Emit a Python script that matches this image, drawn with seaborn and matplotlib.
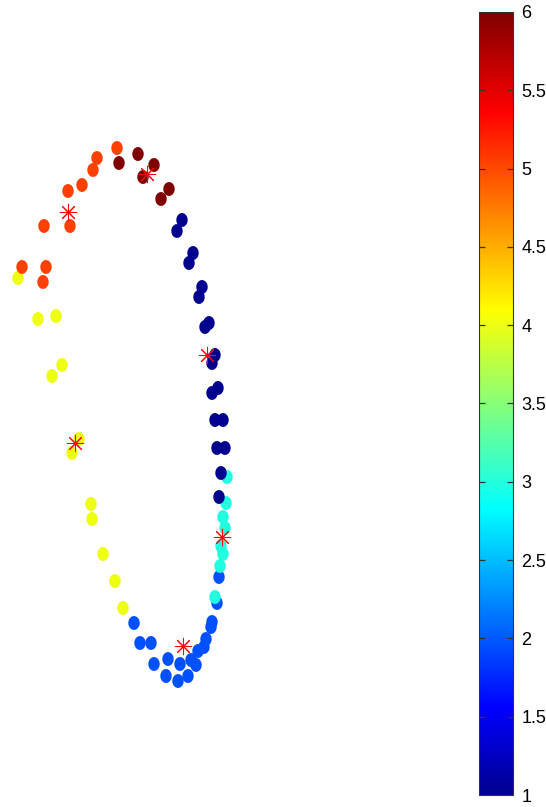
import numpy as np
import pandas as pd
import matplotlib
matplotlib.use("Agg")
import matplotlib.pyplot as plt
from matplotlib.path import Path
from matplotlib.colors import ListedColormap, LinearSegmentedColormap, Normalize
import seaborn as sns

sns.set_style("white")
plt.rcParams['font.family'] = ['Liberation Sans', 'DejaVu Sans']

# ---- data (x right, y downward) ----
# cluster 2 (blue)
c2_x = [134, 140, 151, 154, 168, 166, 180, 178, 188, 191, 196, 198, 204, 206, 211, 212, 217, 219]
c2_y = [623, 643, 643, 664, 659, 676, 664, 681, 676, 660, 665, 651, 647, 639, 627, 622, 603, 577]
# cluster 3 (cyan)
c3_x = [227, 226, 223, 225, 221, 223, 220, 215]
c3_y = [477, 503, 517, 528, 546, 554, 566, 597]
# cluster 1 (navy)
c1_x = [182, 177, 193, 189, 202, 199, 209, 205, 215, 212, 218, 212, 215, 223, 217, 225, 221, 219]
c1_y = [220, 231, 253, 263, 287, 297, 323, 327, 355, 363, 388, 393, 420, 420, 448, 448, 473, 497]
# cluster 4 (yellow)
c4_x = [18, 38, 56, 62, 52, 79, 72, 91, 92, 103, 115, 123]
c4_y = [278, 319, 316, 365, 376, 439, 453, 504, 519, 554, 581, 608]
# cluster 5 (orange)
c5_x = [117, 97, 93, 82, 68, 44, 70, 22, 46, 43]
c5_y = [148, 158, 170, 185, 191, 226, 226, 267, 267, 282]
# cluster 6 (dark red)
c6_x = [138, 119, 154, 143, 169, 161]
c6_y = [154, 163, 165, 177, 189, 199]

# cluster centroids (red asterisks)
cen_x = [207, 183, 222, 75, 68, 147]
cen_y = [355, 646, 537, 443, 212, 174]

cbar_ticks = [1, 1.5, 2, 2.5, 3, 3.5, 4, 4.5, 5, 5.5, 6]
cbar_labels = ["1", "1.5", "2", "2.5", "3", "3.5", "4", "4.5", "5", "5.5", "6"]

# ---- MATLAB-style jet(64) colormap ----
def matlab_jet(m=64):
    n = int(np.ceil(m / 4))
    u = np.concatenate([np.arange(1, n + 1) / n, np.ones(n - 1), np.arange(n, 0, -1) / n])
    g = int(np.ceil(n / 2)) - (1 if m % 4 == 1 else 0) + np.arange(1, len(u) + 1)
    r = g + n
    b = g - n
    J = np.zeros((m, 3))
    for idx_arr, col in ((r, 0), (g, 1), (b, 2)):
        for k, i in enumerate(idx_arr):
            if 1 <= i <= m:
                J[i - 1, col] = u[k]
    return J

jet_rgb = matlab_jet(64)
cmap = ListedColormap(jet_rgb, name="matlab_jet")
cmap_smooth = LinearSegmentedColormap.from_list("matlab_jet_s", jet_rgb, N=512)

# ---- build table (plot order matters for overlaps) ----
parts = [(2, c2_x, c2_y), (3, c3_x, c3_y), (1, c1_x, c1_y),
         (4, c4_x, c4_y), (5, c5_x, c5_y), (6, c6_x, c6_y)]
rows = []
for lab, xs, ys in parts:
    for x, y in zip(xs, ys):
        rows.append((x, y, lab))
df = pd.DataFrame(rows, columns=["x", "y", "cluster"])

W, H = 546, 807
fig = plt.figure(figsize=(W / 100, H / 100), dpi=100)
ax = fig.add_axes([0, 0, 1, 1])

# slightly tall ellipse marker
t = np.linspace(0, 2 * np.pi, 40)
ell = Path(np.column_stack([0.41 * np.cos(t), 0.5 * np.sin(t)]), closed=True)

sns.scatterplot(data=df, x="x", y="y", hue="cluster", palette=cmap,
                hue_norm=(1, 6), marker=ell, s=100, linewidth=0,
                legend=False, ax=ax)
sns.scatterplot(x=cen_x, y=cen_y, marker=(8, 2, 0), color="red",
                s=140, linewidth=0.75, ax=ax, legend=False, zorder=5)

ax.set_xlim(0, W)
ax.set_ylim(H, 0)
ax.axis("off")

# colorbar
cax = fig.add_axes([479 / W, 1 - 795 / H, 34 / W, (795 - 12) / H])
sm = matplotlib.cm.ScalarMappable(norm=Normalize(1, 6), cmap=cmap_smooth)
cb = fig.colorbar(sm, cax=cax)
cb.set_ticks(cbar_ticks)
cb.set_ticklabels(cbar_labels)
cb.outline.set_linewidth(0.8)
cb.outline.set_edgecolor("#333333")
cax.tick_params(axis="y", direction="in", length=0, labelsize=13, pad=6,
                labelcolor="black")
# inward tick marks on both edges of the colour bar
ytr = cax.get_yaxis_transform()
for v in cbar_ticks[1:-1]:
    cax.plot([0, 0.17], [v, v], color="#333333", lw=0.9, transform=ytr,
             zorder=10, solid_capstyle="butt")
    cax.plot([0.83, 1], [v, v], color="#333333", lw=0.9, transform=ytr,
             zorder=10, solid_capstyle="butt")

fig.savefig("out.png", dpi=100)
